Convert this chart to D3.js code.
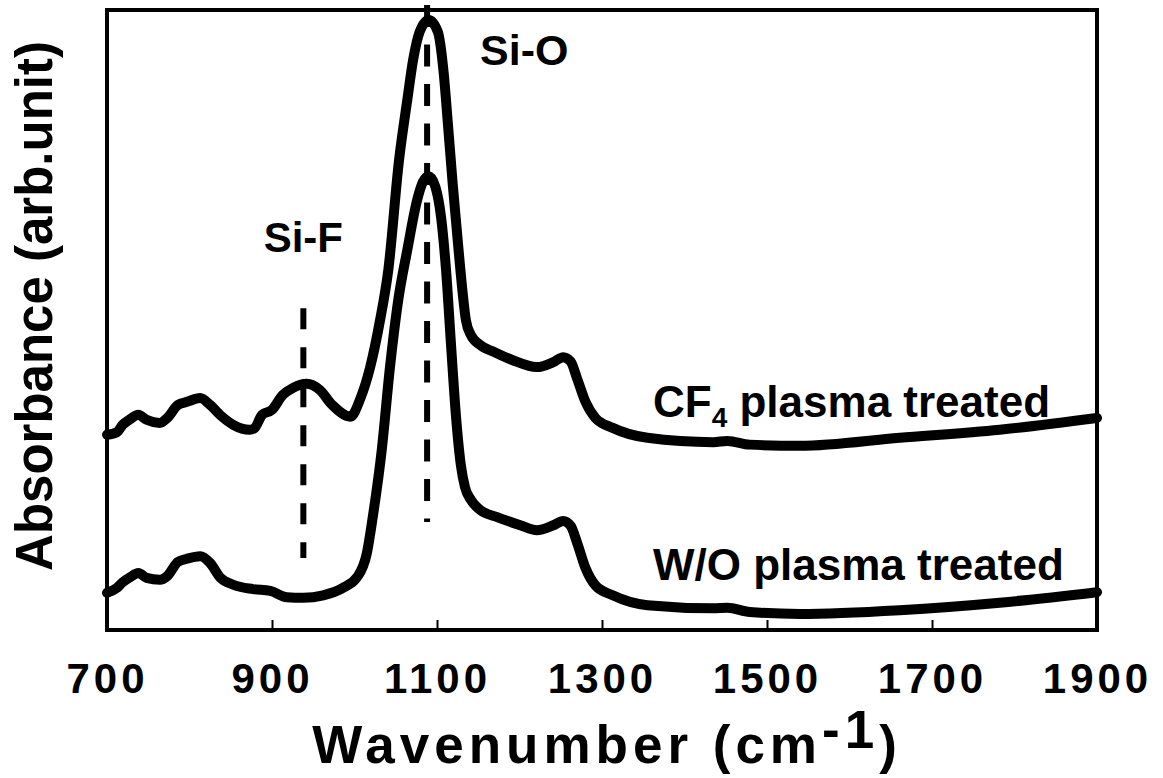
<!DOCTYPE html>
<html>
<head>
<meta charset="utf-8">
<script src="https://cdn.jsdelivr.net/npm/d3@7"></script>
<style>
  body { margin: 0; background: #fff; }
  svg text { font-family: "Liberation Sans", Arial, sans-serif; font-weight: bold; fill: #000; }
</style>
</head>
<body>
<svg id="chart" width="1163" height="778"></svg>
<script>
// FTIR absorbance spectra (arbitrary units, curves offset vertically)
const wavenumberCF4 = [700, 712, 719, 728, 738, 748, 764, 773, 786, 797, 813, 825, 837, 853, 873, 879, 888, 900, 913, 925, 942, 958, 973, 995, 1007, 1019, 1031, 1041, 1054, 1064, 1071, 1079, 1090, 1101, 1108, 1113, 1119, 1125, 1131, 1135, 1141, 1152, 1170, 1192, 1221, 1241, 1253, 1262, 1270, 1280, 1292, 1313, 1355, 1435, 1452, 1479, 1540, 1661, 1782, 1900];
const absorbanceCF4 = [31.5, 31.9, 33.1, 34.0, 34.7, 33.9, 33.4, 34.2, 36.3, 36.8, 37.4, 36.3, 34.7, 33.1, 32.3, 32.6, 34.7, 35.5, 37.9, 39.0, 39.7, 38.7, 36.3, 34.4, 37.3, 42.4, 50.0, 58.1, 75.8, 85.5, 91.9, 96.5, 98.4, 96.5, 90.0, 82.0, 72.0, 63.0, 54.5, 50.0, 47.6, 46.0, 44.8, 43.5, 42.4, 43.2, 44.0, 43.3, 40.5, 36.8, 34.2, 32.6, 31.0, 30.3, 30.5, 29.9, 29.7, 31.0, 32.3, 34.2];

const wavenumberUntreated = [700, 712, 719, 728, 738, 748, 764, 773, 786, 797, 813, 825, 837, 853, 877, 898, 918, 938, 962, 986, 1003, 1015, 1022, 1033, 1043, 1053, 1064, 1076, 1083, 1090, 1098, 1105, 1111, 1117, 1123, 1129, 1134, 1141, 1152, 1173, 1201, 1221, 1241, 1253, 1262, 1270, 1280, 1292, 1313, 1355, 1435, 1452, 1479, 1540, 1661, 1782, 1900];
const absorbanceUntreated = [6.0, 6.8, 7.7, 8.5, 9.2, 8.4, 8.1, 8.7, 11.0, 11.5, 11.9, 10.8, 8.5, 7.3, 6.6, 6.3, 5.3, 5.2, 5.6, 6.8, 8.5, 12.4, 18.1, 29.0, 42.4, 53.2, 61.3, 69.4, 72.3, 73.2, 71.5, 66.5, 58.0, 46.0, 34.5, 26.5, 23.0, 21.0, 19.4, 18.2, 16.9, 16.1, 16.9, 17.6, 16.8, 14.0, 10.0, 7.2, 5.6, 4.0, 3.5, 3.6, 2.9, 2.6, 3.2, 4.4, 6.1];

const xTicks = [700, 900, 1100, 1300, 1500, 1700, 1900];

// Band markers: position and vertical extent (absorbance units)
const bandNames = ["Si-F", "Si-O"];
const bandPositions = [938, 1088];
const bandFrom = [11.6, 17.4];
const bandTo = [51.9, 100.8];

const seriesNames = ["CF\u2084 plasma treated", "W/O plasma treated"];

const svg = d3.select("#chart");

const x = d3.scaleLinear().domain([700, 1900]).range([107, 1097]);
const y = d3.scaleLinear().domain([0, 100]).range([630, 10]);

// Band marker dashed lines
bandPositions.forEach((wn, i) => {
  svg.append("line")
    .attr("x1", x(wn)).attr("x2", x(wn))
    .attr("y1", y(bandTo[i])).attr("y2", y(bandFrom[i]))
    .attr("stroke", "#000")
    .attr("stroke-width", 6)
    .attr("stroke-dasharray", i === 0 ? "21,18" : "22,17.5");
});

// Spectra
const line = d3.line()
  .x(d => x(d[0]))
  .y(d => y(d[1]))
  .curve(d3.curveMonotoneX);

const spectra = [
  d3.zip(wavenumberCF4, absorbanceCF4),
  d3.zip(wavenumberUntreated, absorbanceUntreated)
];

svg.selectAll("path.spectrum")
  .data(spectra)
  .join("path")
  .attr("class", "spectrum")
  .attr("d", line)
  .attr("fill", "none")
  .attr("stroke", "#000")
  .attr("stroke-width", 10)
  .attr("stroke-linejoin", "round")
  .attr("stroke-linecap", "round");

// Plot frame
svg.append("rect")
  .attr("x", x(700)).attr("y", y(100))
  .attr("width", x(1900) - x(700))
  .attr("height", y(0) - y(100))
  .attr("fill", "none")
  .attr("stroke", "#000")
  .attr("stroke-width", 4);

// Bottom axis with inward ticks
const xAxis = d3.axisBottom(x)
  .tickValues(xTicks)
  .tickFormat(d3.format("d"))
  .tickSizeInner(-10)
  .tickSizeOuter(0);

const gx = svg.append("g")
  .attr("transform", `translate(0,${y(0)})`)
  .call(xAxis);
gx.select(".domain").remove();
gx.selectAll(".tick line").attr("stroke", "#000").attr("stroke-width", 2);
gx.selectAll(".tick text")
  .attr("y", 63)
  .attr("dy", 0)
  .attr("font-size", 42)
  .attr("letter-spacing", 4)
  .attr("font-family", null);

// Axis titles
const xTitle = svg.append("text")
  .attr("x", 607)
  .attr("y", 763)
  .attr("text-anchor", "middle")
  .attr("font-size", 53)
  .attr("letter-spacing", 5);
xTitle.append("tspan").text("Wavenumber (cm");
xTitle.append("tspan").attr("dy", -15).text("-1");
xTitle.append("tspan").attr("dy", 15).text(")");

svg.append("text")
  .attr("transform", "translate(52,306) rotate(-90)")
  .attr("text-anchor", "middle")
  .attr("font-size", 51)
  .text("Absorbance (arb.unit)");

// Band labels
svg.append("text")
  .attr("x", x(bandPositions[0]))
  .attr("y", 252)
  .attr("text-anchor", "middle")
  .attr("font-size", 42)
  .text(bandNames[0]);

svg.append("text")
  .attr("x", x(bandPositions[1]) + 53)
  .attr("y", 65)
  .attr("font-size", 43)
  .text(bandNames[1]);

// Series labels
const cfLabel = svg.append("text")
  .attr("x", 653)
  .attr("y", 417)
  .attr("font-size", 44);
cfLabel.append("tspan").text("CF");
cfLabel.append("tspan").attr("font-size", 28).attr("dy", 10).text("4");
cfLabel.append("tspan").attr("dy", -10).text(" plasma treated");

svg.append("text")
  .attr("x", 653)
  .attr("y", 580)
  .attr("font-size", 44)
  .text(seriesNames[1]);
</script>
</body>
</html>
